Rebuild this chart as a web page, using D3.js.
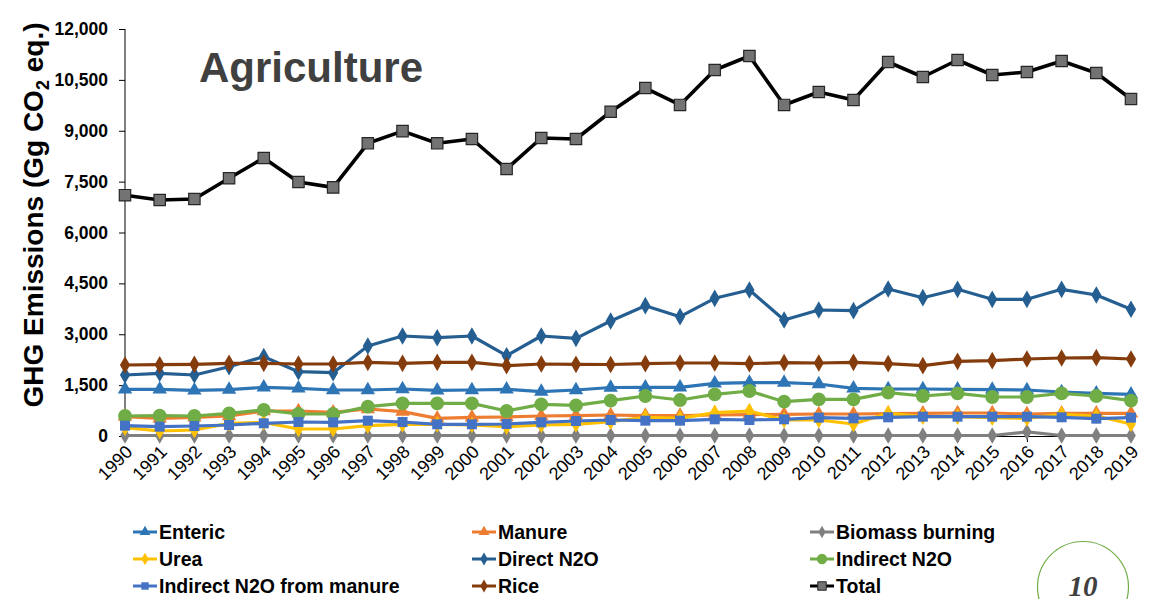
<!DOCTYPE html>
<html>
<head>
<meta charset="utf-8">
<script src="https://cdn.jsdelivr.net/npm/d3@7/dist/d3.min.js"></script>
<style>
  body { margin: 0; background: #fff; }
  svg { font-family: "Liberation Sans", Arial, sans-serif; }
</style>
</head>
<body>
<script>
var width = 1150,
    height = 599;

// data
var years = d3.range(1990, 2020);
var yTicks = [0, 1500, 3000, 4500, 6000, 7500, 9000, 10500, 12000];

var enteric = [1376, 1376, 1347, 1366, 1435, 1406, 1356, 1356, 1386, 1347, 1356, 1376, 1307, 1356, 1430,
    1435, 1435, 1553, 1572, 1572, 1533, 1406, 1386, 1386, 1376, 1366, 1356, 1297, 1258, 1229];
var manure = [570, 521, 551, 590, 737, 737, 698, 796, 717, 521, 551, 560, 590, 600, 619,
    600, 600, 619, 629, 639, 649, 649, 659, 669, 678, 678, 649, 669, 669, 669];
var biomass = [15, 15, 15, 15, 15, 15, 15, 15, 15, 15, 15, 15, 15, 15, 15,
    15, 15, 15, 15, 15, 15, 15, 15, 15, 15, 15, 120, 15, 15, 15];
var urea = [245, 147, 177, 374, 403, 206, 206, 305, 344, 344, 324, 275, 324, 344, 423,
    551, 521, 688, 737, 472, 472, 354, 669, 570, 570, 541, 521, 639, 590, 354];
var directN2O = [1798, 1849, 1798, 2043, 2338, 1896, 1866, 2654, 2948, 2898, 2948, 2367, 2948, 2880, 3391,
    3842, 3518, 4060, 4305, 3420, 3715, 3695, 4334, 4078, 4325, 4030, 4030, 4325, 4157, 3736];
var indirectN2O = [590, 600, 590, 669, 767, 649, 649, 865, 963, 963, 963, 737, 934, 905, 1041,
    1179, 1061, 1229, 1327, 1011, 1081, 1081, 1278, 1179, 1258, 1150, 1150, 1258, 1179, 1041];
var indirectManure = [305, 275, 295, 324, 374, 413, 403, 452, 413, 344, 344, 354, 403, 442, 472,
    452, 452, 492, 472, 492, 541, 521, 551, 570, 570, 570, 570, 551, 511, 541];
var rice = [2093, 2102, 2113, 2143, 2143, 2123, 2123, 2172, 2143, 2172, 2172, 2074, 2123, 2113, 2108,
    2132, 2152, 2152, 2132, 2162, 2152, 2172, 2132, 2074, 2202, 2221, 2270, 2300, 2310, 2270];
var total = [7100, 6958, 6988, 7600, 8197, 7489, 7330, 8630, 8990, 8630, 8757, 7872, 8786, 8757, 9560,
    10260, 9760, 10791, 11204, 9760, 10143, 9907, 11027, 10585, 11086, 10644, 10732, 11056, 10703, 9936];

var series = [
    { name: 'Enteric', values: enteric, color: '#2e75b6', symbol: d3.symbolTriangle, size: 90 },
    { name: 'Manure', values: manure, color: '#ed7d31', symbol: d3.symbolTriangle, size: 90 },
    { name: 'Biomass burning', values: biomass, color: '#808080', symbol: d3.symbolDiamond, size: 80 },
    { name: 'Urea', values: urea, color: '#ffc000', symbol: d3.symbolDiamond, size: 80 },
    { name: 'Direct N2O', values: directN2O, color: '#255e91', symbol: d3.symbolDiamond, size: 90 },
    { name: 'Indirect N2O', values: indirectN2O, color: '#70ad47', symbol: d3.symbolCircle, size: 150 },
    { name: 'Indirect N2O from manure', values: indirectManure, color: '#4472c4', symbol: d3.symbolSquare, size: 100 },
    { name: 'Rice', values: rice, color: '#843c0c', symbol: d3.symbolDiamond, size: 90 },
    { name: 'Total', values: total, color: '#000000', symbol: d3.symbolSquare, size: 130, fill: '#737373', stroke: '#262626', width: 3.6 }
];

var svg = d3.select('body').append('svg').attr('width', width).attr('height', height);

var x = d3.scaleLinear().domain([1990, 2019]).range([125, 1131]);
var y = d3.scaleLinear().domain([0, 12000]).range([436, 29]);

// axes
var yAxis = svg.append('g').attr('transform', 'translate(125,0)')
    .call(d3.axisLeft(y).tickValues(yTicks).tickFormat(d3.format(',')).tickSize(6).tickPadding(11));
yAxis.select('.domain').attr('stroke', '#000').attr('d', 'M0,' + y(12000) + 'V' + y(0));
yAxis.selectAll('text').attr('font-size', 17.5).attr('font-weight', 'bold').attr('fill', '#000')
    .attr('font-family', '"Liberation Sans", Arial, sans-serif');

var xAxis = svg.append('g').attr('transform', 'translate(0,436)')
    .call(d3.axisBottom(x).tickValues(years).tickFormat(d3.format('d')).tickSize(6).tickSizeOuter(0));
xAxis.select('.domain').attr('stroke', '#000');
xAxis.selectAll('text')
    .attr('font-size', 18).attr('fill', '#000')
    .attr('font-family', '"Liberation Sans", Arial, sans-serif')
    .attr('text-anchor', 'end')
    .attr('dy', null).attr('y', 0)
    .attr('transform', 'translate(8,17) rotate(-45)');

// y title
svg.append('text')
    .attr('transform', 'translate(43,' + ((22 + 408) / 2) + ') rotate(-90)')
    .attr('text-anchor', 'middle')
    .attr('font-size', 28).attr('font-weight', 'bold')
    .html('GHG Emissions (Gg CO<tspan font-size="18" dy="6">2</tspan><tspan dy="-6"> eq.)</tspan>');

// title
svg.append('text').attr('x', 199).attr('y', 82)
    .attr('font-size', 42).attr('font-weight', 'bold').attr('fill', '#404040')
    .text('Agriculture');

// lines
var line = d3.line()
    .x(function (d, i) { return x(years[i]); })
    .y(function (d) { return y(d); });

series.forEach(function (s) {
    var g = svg.append('g');
    g.append('path')
        .attr('d', line(s.values))
        .attr('fill', 'none')
        .attr('stroke', s.color)
        .attr('stroke-width', s.width || 3.2)
        .attr('stroke-linejoin', 'round');
    g.selectAll('path.m')
        .data(s.values)
        .enter()
        .append('path')
        .attr('class', 'm')
        .attr('d', d3.symbol().type(s.symbol).size(s.size))
        .attr('transform', function (d, i) {
            return 'translate(' + x(years[i]) + ',' + y(d) + ')';
        })
        .attr('fill', s.fill || s.color)
        .attr('stroke', s.stroke || 'none')
        .attr('stroke-width', s.stroke ? 1.2 : 0);
});

// legend
var legCols = [133, 472, 810];
var legRows = [532, 559, 586];
series.forEach(function (s, i) {
    var lx = legCols[i % 3], ly = legRows[Math.floor(i / 3)];
    var g = svg.append('g').attr('transform', 'translate(' + lx + ',' + ly + ')');
    g.append('line').attr('x1', 0).attr('x2', 24).attr('y1', 0).attr('y2', 0)
        .attr('stroke', s.color).attr('stroke-width', 3);
    g.append('path').attr('d', d3.symbol().type(s.symbol).size(s.size * 0.55))
        .attr('transform', 'translate(12,0)')
        .attr('fill', s.fill || s.color)
        .attr('stroke', s.stroke || 'none')
        .attr('stroke-width', s.stroke ? 1 : 0);
    g.append('text').attr('x', 26).attr('y', 7)
        .attr('font-size', 19.5).attr('font-weight', 'bold').attr('fill', '#000')
        .text(s.name);
});

// page number
svg.append('circle').attr('cx', 1083).attr('cy', 587).attr('r', 45.5)
    .attr('fill', 'none').attr('stroke', '#70ad47').attr('stroke-width', 1.2);
svg.append('text').attr('x', 1083).attr('y', 596)
    .attr('text-anchor', 'middle')
    .attr('font-family', '"Liberation Serif", serif')
    .attr('font-size', 29).attr('font-weight', 'bold').attr('font-style', 'italic')
    .attr('fill', '#404040')
    .text('10');
</script>
</body>
</html>
